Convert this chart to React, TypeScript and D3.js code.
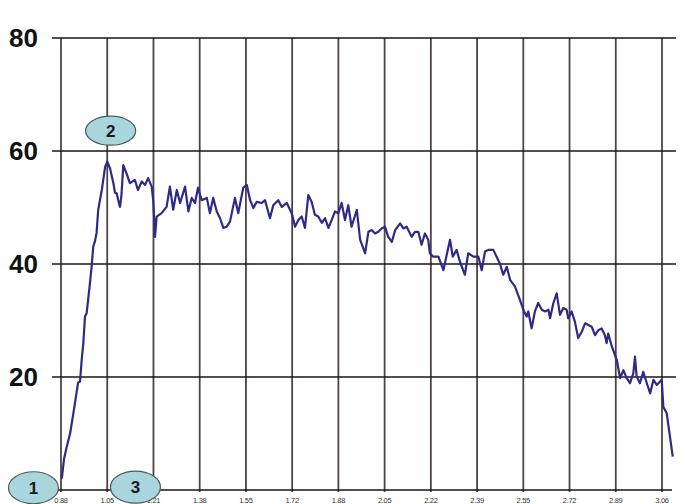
import React from "react";
import * as d3 from "d3";

const yTicks = [20, 40, 60, 80];
const yLabels = ["20", "40", "60", "80"];
const xTickLabels = ["0.88", "1.05", "1.21", "1.38", "1.55", "1.72", "1.88", "2.05", "2.22", "2.39", "2.55", "2.72", "2.89", "3.06"];

const xs = [
  0.883, 0.891, 0.901, 0.913, 0.925, 0.937, 0.942, 0.949, 0.955, 0.961, 0.967, 0.973, 0.979, 0.985, 0.991, 0.997,
  1.003, 1.009, 1.015, 1.028, 1.040, 1.048, 1.058, 1.070, 1.076, 1.082, 1.089, 1.094, 1.099, 1.106, 1.118, 1.130,
  1.148, 1.159, 1.173, 1.185, 1.196, 1.209, 1.215, 1.221, 1.227, 1.245, 1.263, 1.275, 1.287, 1.300, 1.312, 1.330,
  1.342, 1.354, 1.366, 1.377, 1.390, 1.409, 1.420, 1.432, 1.445, 1.457, 1.469, 1.481, 1.493, 1.511, 1.523, 1.541,
  1.554, 1.566, 1.578, 1.590, 1.608, 1.620, 1.638, 1.650, 1.668, 1.681, 1.699, 1.717, 1.729, 1.741, 1.753, 1.765,
  1.777, 1.789, 1.801, 1.813, 1.826, 1.838, 1.850, 1.862, 1.874, 1.886, 1.898, 1.910, 1.922, 1.934, 1.953, 1.965,
  1.983, 1.995, 2.007, 2.019, 2.031, 2.043, 2.055, 2.067, 2.080, 2.092, 2.110, 2.122, 2.134, 2.152, 2.164, 2.176,
  2.188, 2.200, 2.212, 2.218, 2.230, 2.249, 2.267, 2.279, 2.291, 2.301, 2.315, 2.327, 2.345, 2.357, 2.376, 2.394,
  2.406, 2.418, 2.430, 2.448, 2.460, 2.472, 2.484, 2.497, 2.509, 2.527, 2.545, 2.557, 2.569, 2.575, 2.587, 2.599,
  2.611, 2.624, 2.636, 2.648, 2.654, 2.666, 2.678, 2.690, 2.702, 2.714, 2.720, 2.732, 2.744, 2.756, 2.769, 2.781,
  2.793, 2.805, 2.817, 2.829, 2.841, 2.853, 2.859, 2.865, 2.878, 2.896, 2.908, 2.920, 2.932, 2.944, 2.956, 2.962,
  2.968, 2.980, 2.992, 3.005, 3.017, 3.029, 3.041, 3.053, 3.059, 3.065, 3.077, 3.089, 3.099,
];

const ys = [
  2.0, 5.5, 7.7, 10.0, 13.6, 17.4, 19.0, 19.2, 23.0, 26.0, 30.7, 31.3, 33.9, 36.6, 39.5, 43.1,
  44.0, 45.5, 49.6, 53.1, 57.2, 58.1, 56.9, 54.3, 52.6, 52.5, 51.0, 50.1, 52.0, 57.5, 56.0, 54.3,
  54.9, 53.1, 54.6, 54.0, 55.2, 53.7, 51.0, 44.8, 48.4, 49.0, 50.1, 53.7, 49.6, 53.1, 50.8, 53.7,
  49.3, 51.7, 50.8, 53.5, 51.3, 51.7, 49.0, 51.7, 49.3, 48.1, 46.4, 46.6, 47.5, 51.7, 49.0, 53.5,
  54.0, 51.3, 49.9, 51.0, 50.8, 51.3, 48.1, 50.4, 51.3, 50.1, 50.8, 49.0, 46.6, 47.8, 48.4, 46.4,
  52.2, 51.0, 48.7, 48.4, 47.3, 48.1, 46.4, 47.8, 49.3, 49.0, 50.8, 47.8, 50.4, 46.6, 49.6, 44.3,
  41.9, 45.7, 46.0, 45.4, 45.7, 46.3, 46.6, 44.8, 43.9, 46.0, 47.2, 46.3, 46.6, 44.8, 45.7, 45.7,
  43.4, 45.4, 44.3, 41.9, 41.3, 41.3, 38.9, 41.6, 44.3, 41.3, 42.5, 40.4, 38.1, 41.9, 41.3, 41.3,
  38.9, 42.2, 42.5, 42.5, 41.3, 40.1, 38.1, 39.5, 37.2, 36.0, 33.6, 31.9, 30.7, 31.6, 28.6, 31.6,
  33.1, 31.9, 31.6, 31.9, 30.4, 33.1, 34.8, 31.0, 32.2, 31.9, 30.4, 31.6, 29.8, 26.9, 28.0, 29.5,
  29.2, 28.9, 27.4, 28.3, 28.6, 27.4, 26.0, 27.7, 25.4, 23.0, 19.8, 21.2, 19.8, 18.9, 20.7, 23.6,
  20.1, 18.9, 20.9, 18.9, 17.1, 19.5, 18.6, 19.2, 19.5, 14.7, 13.6, 9.4, 5.9,
];

const markerLabels = ["1", "2", "3"];
const markerX = [0.78, 1.06, 1.15];
const markerY = [0.4, 63.6, 0.5];
const markerRy = [16, 14.5, 16];

export default function App() {
  const W = 700, H = 504;
  const x = d3.scaleLinear().domain([0.88, 3.06]).range([61, 662]);
  const y = d3.scaleLinear().domain([0, 80]).range([490, 38]);
  const tickVals = xTickLabels.map((_, i) => 0.88 + (i * (3.06 - 0.88)) / (xTickLabels.length - 1));
  const data = xs.map((v, i) => [v, ys[i]] as [number, number]);
  const line = d3.line<[number, number]>().x((d) => x(d[0])).y((d) => y(d[1]));

  return (
    <svg width={W} height={H} style={{ position: "absolute", left: 0, top: 0, background: "#fff" }}>
      <rect x={0} y={0} width={W} height={H} fill="#ffffff" />
      {tickVals.map((t, i) => (
        <line key={"v" + i} x1={x(t)} x2={x(t)} y1={y(80)} y2={y(0) + 2} stroke="#4e4444" strokeWidth={1.8} />
      ))}
      {yTicks.map((t, i) => (
        <line key={"h" + i} x1={52} x2={676} y1={y(t)} y2={y(t)} stroke="#1a1414" strokeWidth={1.4} />
      ))}
      <line x1={52} x2={672} y1={y(0)} y2={y(0)} stroke="#1a1414" strokeWidth={1.4} />
      {yTicks.map((t, i) => (
        <text key={"yl" + i} x={38} y={y(t) + 9} textAnchor="end" fontFamily="Arial, Liberation Sans, sans-serif" fontWeight="bold" fontSize={26} fill="#111">
          {yLabels[i]}
        </text>
      ))}
      {tickVals.map((t, i) => (
        <text key={"xl" + i} x={x(t)} y={503} textAnchor="middle" fontFamily="Arial, Liberation Sans, sans-serif" fontSize={7.5} fill="#333" style={{ letterSpacing: "-0.3px" }}>
          {xTickLabels[i]}
        </text>
      ))}
      <path d={line(data) || ""} fill="none" stroke="#2e2a86" strokeWidth={2.2} strokeLinejoin="round" />
      {markerLabels.map((m, i) => (
        <g key={"m" + i}>
          <ellipse cx={x(markerX[i])} cy={y(markerY[i])} rx={25} ry={markerRy[i]} fill="#a9d5dc" stroke="#4a5a5e" strokeWidth={1.2} />
          <text x={x(markerX[i])} y={y(markerY[i]) + 6} textAnchor="middle" fontFamily="Arial, Liberation Sans, sans-serif" fontWeight="bold" fontSize={17} fill="#1a1a1a">
            {m}
          </text>
        </g>
      ))}
    </svg>
  );
}
